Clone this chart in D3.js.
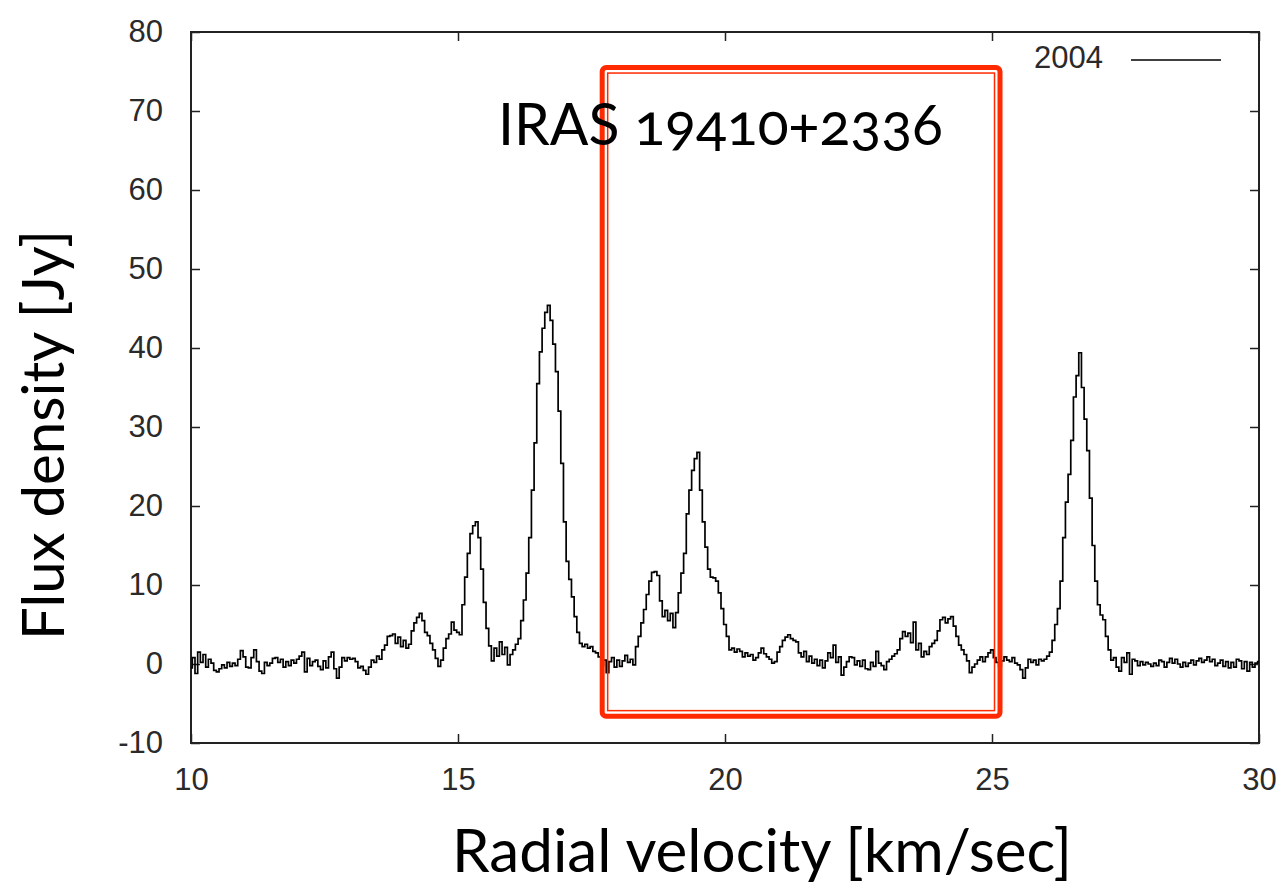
<!DOCTYPE html>
<html>
<head>
<meta charset="utf-8">
<script src="https://cdn.jsdelivr.net/npm/d3@7"></script>
<style>
  html, body { margin: 0; padding: 0; background: #fff; }
  svg { display: block; }
</style>
</head>
<body>
<svg id="chart" width="1281" height="885"></svg>
<script>
// ---- data ----
const velocityStart = 10.0;   // km/s, first channel
const velocityStep = 0.05;    // km/s, channel width
const flux2004 = [
  // 10.00 - 10.95
  -0.5, 0.8, -1.2, 1.5, 0.2, 1.2, -0.4, 0.6, 0.1, -0.8, -1.0, -0.6, -0.1, -0.5, 0.2, -0.3, 0.1, -0.2, 0.6, 1.7,
  // 11.00 - 11.95
  0.9, -0.4, -0.5, 0.8, 1.8, 0.3, -0.9, -1.2, 0.2, -0.2, 0.1, 0.7, 0.8, 0.2, 0.6, -0.4, 0.3, -0.2, 0.5, 0.1,
  // 12.00 - 12.95
  0.6, 1.0, 1.5, -1.0, 0.7, -0.2, 0.3, 0.5, -0.3, -0.7, 0.4, -0.5, 0.9, 1.5, -0.6, -1.8, -0.4, 0.8, 0.4, 0.8,
  // 13.00 - 13.95
  0.6, 0.7, 0.3, -0.5, -0.3, -0.8, -1.3, -0.4, 0.5, 0.2, 1.0, 0.6, 1.8, 2.4, 3.5, 3.6, 3.8, 2.6, 3.4, 2.2,
  // 14.00 - 14.95
  3.0, 2.0, 2.5, 4.2, 5.2, 5.9, 6.4, 5.5, 4.0, 3.6, 2.6, 1.8, 0.7, -0.3, 0.5, 2.0, 3.2, 3.8, 5.3, 4.3,
  // 15.00 - 15.95
  4.0, 3.7, 7.5, 11.0, 14.0, 16.5, 17.5, 18.0, 16.0, 12.0, 7.8, 4.5, 2.3, 0.4, 2.0, 1.0, 2.8, 1.2, 2.1, -0.1,
  // 16.00 - 16.95
  1.2, 1.8, 2.5, 3.2, 5.5, 8.1, 11.5, 16.0, 22.0, 28.0, 35.5, 39.5, 42.5, 44.5, 45.4, 43.5, 40.5, 37.0, 32.0, 25.4,
  // 17.00 - 17.95
  18.0, 13.0, 10.7, 8.5, 6.0, 4.0, 2.6, 2.2, 2.5, 2.0, 2.2, 1.6, 1.4, 0.9, -0.2, 0.5, -1.1, 0.3, 0.8, -0.4,
  // 18.00 - 18.95
  0.5, -0.3, 0.4, 1.1, 0.2, 0.6, -0.1, 2.2, 3.5, 5.2, 6.9, 8.8, 10.5, 11.6, 11.7, 11.2, 8.0, 6.0, 6.8, 5.5,
  // 19.00 - 19.95
  6.4, 4.6, 6.5, 9.0, 11.5, 14.0, 19.0, 22.0, 24.5, 26.0, 26.8, 22.0, 18.0, 14.8, 12.0, 11.0, 10.9, 10.5, 9.0, 7.0,
  // 20.00 - 20.95
  5.0, 3.5, 1.8, 2.0, 1.5, 1.9, 1.6, 0.9, 1.4, 1.0, 1.2, 0.5, 0.8, 1.4, 2.0, 1.3, 0.9, 0.6, 0.1, 0.3,
  // 21.00 - 21.95
  1.5, 2.2, 3.0, 3.4, 3.7, 3.2, 3.0, 2.8, 1.4, 0.9, 1.6, 0.3, 1.0, 0.1, 0.6, -0.2, 0.5, -0.5, 0.4, 1.4,
  // 22.00 - 22.95
  0.8, 2.4, 0.2, 0.9, -1.4, -0.4, 0.3, 0.9, 0.8, -0.1, 0.4, -0.3, 0.5, -0.6, -0.7, 0.2, -0.3, 1.6, 0.1, -0.2,
  // 23.00 - 23.95
  -0.7, 0.3, 0.6, 1.0, 1.3, 1.8, 3.2, 4.1, 3.5, 3.9, 2.7, 5.3, 1.8, 2.6, 0.9, 1.6, 1.2, 2.2, 2.6, 3.0,
  // 24.00 - 24.95
  4.2, 5.6, 5.9, 5.2, 5.7, 6.0, 4.8, 3.5, 2.4, 1.8, 1.2, 0.4, -1.1, -0.4, 0.0, 0.5, 0.9, 0.3, 0.9, 1.4,
  // 25.00 - 25.95
  1.8, 0.8, 0.2, -0.3, 0.4, 0.9, 0.5, 0.3, 0.8, 0.1, -0.1, -0.7, -1.8, -0.5, 0.6, 0.2, 0.5, -0.1, 0.6, 0.4,
  // 26.00 - 26.95
  0.6, 1.0, 1.5, 3.0, 5.0, 7.0, 10.5, 16.0, 20.5, 24.0, 28.3, 33.8, 36.5, 39.4, 35.0, 31.0, 27.0, 21.0, 15.0, 10.5,
  // 27.00 - 27.95
  7.5, 6.2, 5.6, 3.5, 1.8, 0.5, 0.8, -0.4, -0.9, 0.8, 0.2, 1.4, -1.3, 0.6, 0.4, -0.2, 0.3, -0.1, 0.2, 0.0,
  // 28.00 - 28.95
  -0.3, 0.1, -0.2, 0.5, 0.3, -0.4, 0.2, 0.7, 0.1, 0.6, 0.0, -0.4, 0.2, -0.3, 0.1, 0.5, -0.1, 0.4, 0.7, 0.2,
  // 29.00 - 29.95
  0.5, 0.9, 0.3, 0.6, -0.2, 0.1, 0.5, -0.3, 0.3, -0.5, 0.2, -0.4, 0.6, 0.4, -0.6, 0.3, -0.9, 0.2, -0.4, 0.1,
  // 30.00
  0.3
];
const seriesName = "2004";
const xTicks = [10, 15, 20, 25, 30];
const yTicks = [-10, 0, 10, 20, 30, 40, 50, 60, 70, 80];
const xDomain = [10, 30];
const yDomain = [-10, 80];
const titleText = "IRAS 19410+2336";
const xLabelText = "Radial velocity [km/sec]";
const yLabelText = "Flux density [Jy]";
// highlighted velocity window (km/s) and flux span (Jy) of the red box
const boxVelocity = [17.7, 25.15];
const boxFlux = [-6.6, 75.5];

// ---- layout ----
const svg = d3.select("#chart");
const margin = { left: 191, top: 32, right: 1281 - 1259, bottom: 885 - 743 };
const W = 1281 - margin.left - margin.right;
const H = 885 - margin.top - margin.bottom;

const x = d3.scaleLinear().domain(xDomain).range([0, W]);
const y = d3.scaleLinear().domain(yDomain).range([H, 0]);

const g = svg.append("g").attr("transform", `translate(${margin.left},${margin.top})`);

const tickFont = "'Liberation Sans', Arial, Helvetica, sans-serif";
const tickColor = "#2a2a2a";
const tickSizePx = "31px";
const tickLen = 9;
const fmt = d => String(d);

function styleAxis(sel, showText) {
  sel.select(".domain").remove();
  sel.selectAll(".tick line").attr("stroke", "#222").attr("stroke-width", 1.5);
  sel.selectAll(".tick text")
    .attr("fill", tickColor)
    .style("font-family", tickFont)
    .style("font-size", tickSizePx);
  if (!showText) sel.selectAll(".tick text").remove();
}

g.append("g")
  .call(d3.axisLeft(y).tickValues(yTicks).tickSize(-tickLen).tickPadding(28).tickFormat(fmt))
  .call(s => styleAxis(s, true));
g.append("g").attr("transform", `translate(${W},0)`)
  .call(d3.axisRight(y).tickValues(yTicks).tickSize(-tickLen))
  .call(s => styleAxis(s, false));
g.append("g").attr("transform", `translate(0,${H})`)
  .call(d3.axisBottom(x).tickValues(xTicks).tickSize(-tickLen).tickPadding(25).tickFormat(fmt))
  .call(s => styleAxis(s, true));
g.append("g")
  .call(d3.axisTop(x).tickValues(xTicks).tickSize(-tickLen))
  .call(s => styleAxis(s, false));

// frame
g.append("rect")
  .attr("x", 0).attr("y", 0).attr("width", W).attr("height", H)
  .attr("fill", "none").attr("stroke", "#222").attr("stroke-width", 2);

// spectrum
const data = flux2004.map((f, i) => ({ v: velocityStart + i * velocityStep, f }));
const line = d3.line().x(d => x(d.v)).y(d => y(d.f)).curve(d3.curveStep);
g.append("path")
  .datum(data)
  .attr("fill", "none")
  .attr("stroke", "#000")
  .attr("stroke-width", 1.7)
  .attr("d", line);

// legend
const legendY = 28;
g.append("text")
  .attr("x", x(xDomain[1]) - 156)
  .attr("y", legendY + 8)
  .attr("text-anchor", "end")
  .attr("fill", tickColor)
  .style("font-family", tickFont)
  .style("font-size", tickSizePx)
  .text(seriesName);
g.append("line")
  .attr("x1", x(xDomain[1]) - 128).attr("x2", x(xDomain[1]) - 38)
  .attr("y1", legendY).attr("y2", legendY)
  .attr("stroke", "#000").attr("stroke-width", 1.5);

// red highlight box (double line)
const bx0 = x(boxVelocity[0]), bx1 = x(boxVelocity[1]);
const by0 = y(boxFlux[1]), by1 = y(boxFlux[0]);
const red = "#ff2a00";
g.append("rect")
  .attr("x", bx0).attr("y", by0).attr("width", bx1 - bx0).attr("height", by1 - by0)
  .attr("rx", 4).attr("fill", "none").attr("stroke", red).attr("stroke-width", 5);
const inset = 5.5;
g.append("rect")
  .attr("x", bx0 + inset).attr("y", by0 + inset)
  .attr("width", bx1 - bx0 - 2 * inset).attr("height", by1 - by0 - 2 * inset)
  .attr("fill", "none").attr("stroke", red).attr("stroke-width", 1.5);

// text helper: fit font size to a target width
const humanist = "Lato, 'Open Sans', 'Noto Sans', sans-serif";
function fitText(sel, targetWidth) {
  const node = sel.node();
  const fs = parseFloat(sel.style("font-size"));
  const w = node.getComputedTextLength();
  if (w > 0) sel.style("font-size", (fs * targetWidth / w) + "px");
  return sel;
}

// title
const title = svg.append("text")
  .attr("x", 498).attr("y", 145)
  .attr("fill", "#000")
  .style("font-family", humanist)
  .style("font-size", "60px")
  .style("font-variant-numeric", "oldstyle-nums")
  .style("font-feature-settings", "'onum' 1")
  .text(titleText);
fitText(title, 445);

// x label
const xl = svg.append("text")
  .attr("x", 762).attr("y", 872)
  .attr("text-anchor", "middle")
  .attr("fill", "#000")
  .style("font-family", humanist)
  .style("font-size", "52px")
  .text(xLabelText);
fitText(xl, 620);

// y label
const yl = svg.append("text")
  .attr("transform", "translate(64,435) rotate(-90)")
  .attr("text-anchor", "middle")
  .attr("fill", "#000")
  .style("font-family", humanist)
  .style("font-size", "52px")
  .text(yLabelText);
fitText(yl, 410);
</script>
</body>
</html>
